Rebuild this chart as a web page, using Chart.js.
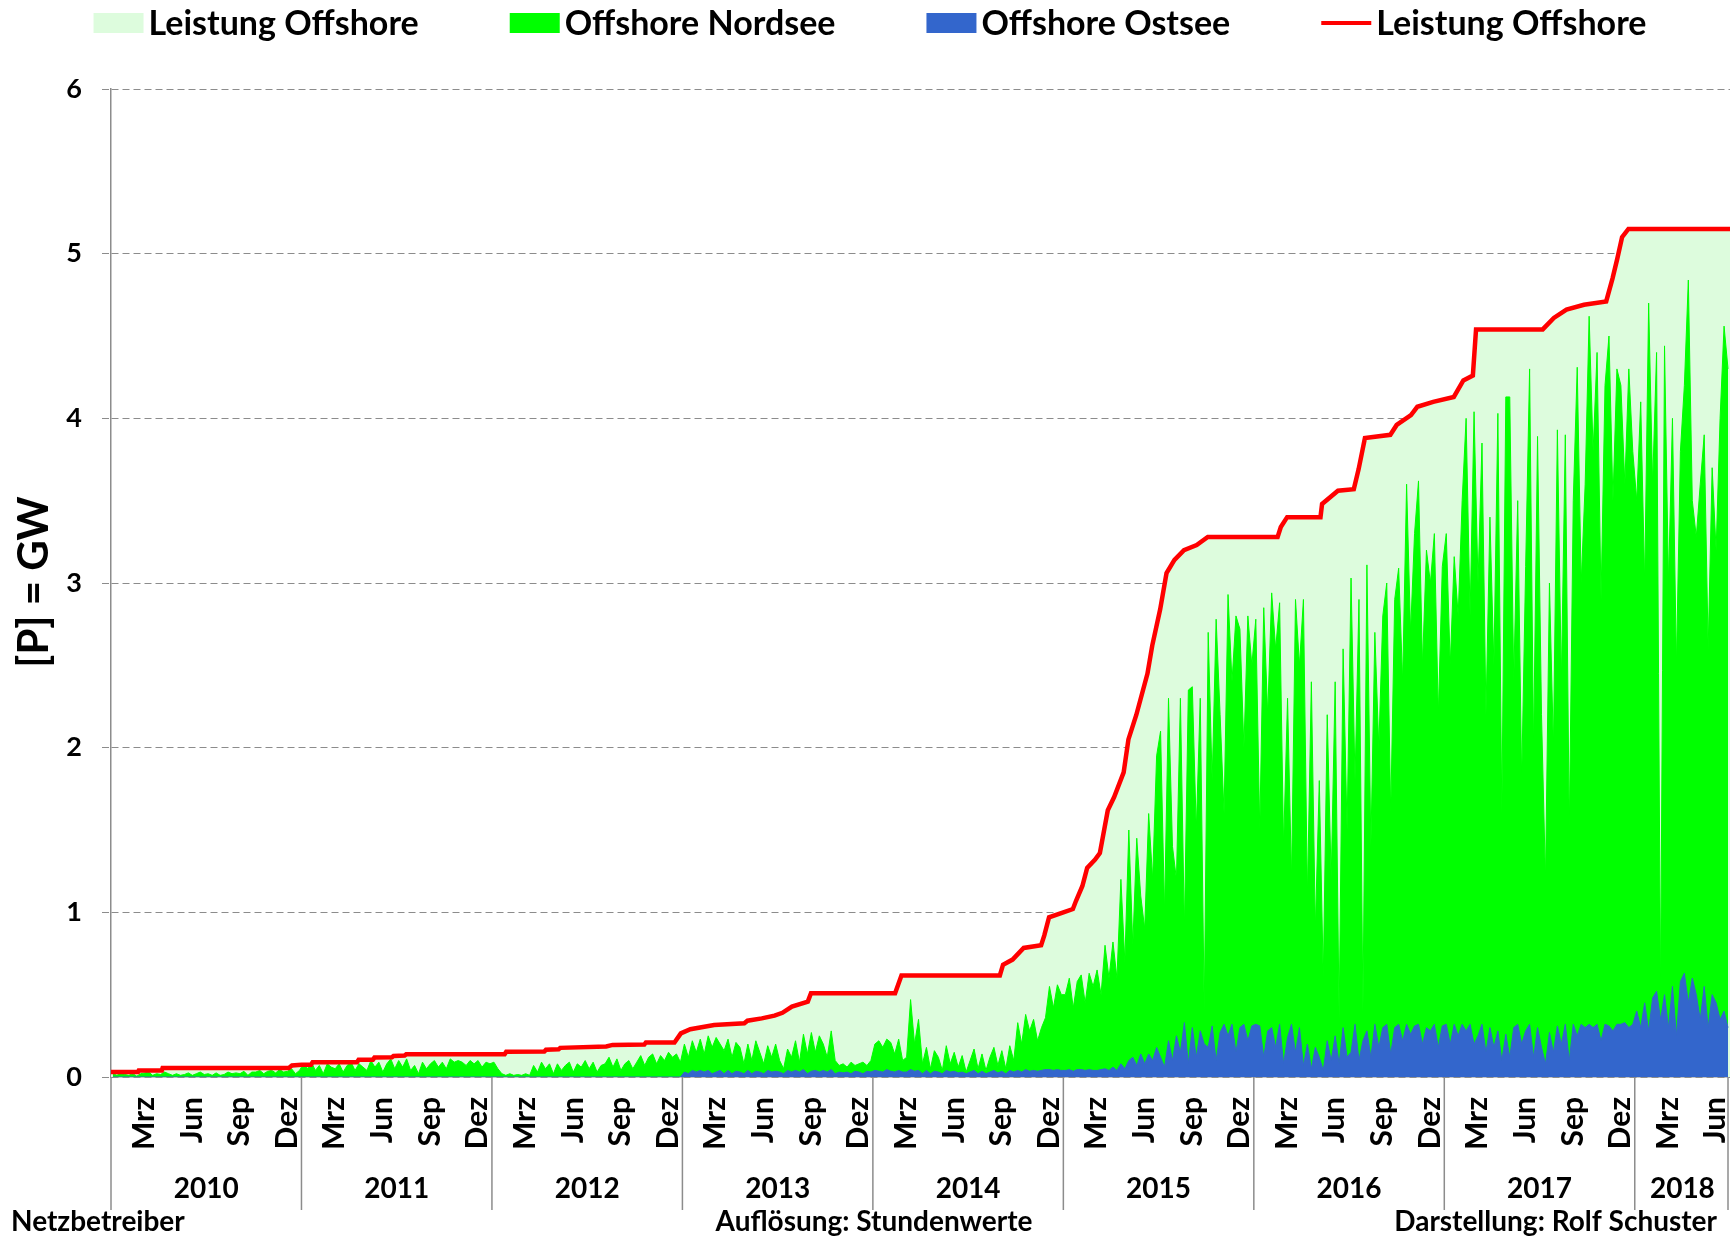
<!DOCTYPE html>
<html>
<head>
<meta charset="utf-8">
<script src="https://cdn.jsdelivr.net/npm/chart.js@4.4.1/dist/chart.umd.min.js"></script>
<style>
html, body { margin: 0; padding: 0; background: #fff; }
canvas { display: block; }
</style>
</head>
<body>
<canvas id="offshore" width="1730" height="1240"></canvas>
<script>
// x = Monate seit Jan 2010
const years = ['2010', '2011', '2012', '2013', '2014', '2015', '2016', '2017', '2018'];
const monthNames = ['Mrz', 'Jun', 'Sep', 'Dez'];
const monthOffsets = [2.1, 5.1, 8.1, 11.1];
const xMax = 102;
const legendLabels = ['Leistung Offshore', 'Offshore Nordsee', 'Offshore Ostsee', 'Leistung Offshore'];
const footerLeft = 'Netzbetreiber';
const footerCenter = 'Auflösung: Stundenwerte';
const footerRight = 'Darstellung: Rolf Schuster';
const yTitle = '[P] = GW';

// installierte Leistung (GW)
const capMonths = [0, 1.7, 1.75, 3.2, 3.25, 11.2, 11.4, 12.0, 12.6, 12.7, 15.5, 15.6, 16.5, 16.6, 17.7, 17.8, 18.5, 18.6,
  24.8, 24.9, 27.3, 27.4, 28.2, 28.3, 31.2, 31.6, 33.6, 33.7, 35.5, 35.9, 36.5, 38.0, 39.9, 40.1, 41.0, 41.8, 42.3, 42.9,
  43.9, 44.1, 49.4, 49.8, 56.0, 56.2, 56.8, 57.5, 58.6, 58.8, 59.1, 60.0, 60.6, 60.8, 61.2, 61.5, 62.0, 62.3, 62.8, 63.2,
  63.8, 64.1, 64.6, 65.3, 65.6, 66.1, 66.5, 67.0, 67.6, 68.4, 69.1, 73.5, 73.7, 74.1, 76.2, 76.3, 77.3, 78.3, 78.6, 79.0,
  80.6, 81.0, 81.9, 82.3, 83.3, 84.6, 85.2, 85.8, 86.0, 90.2, 90.9, 91.7, 92.8, 94.2, 94.6, 94.9, 95.2, 95.6, 102];
const capValues = [0.03, 0.03, 0.04, 0.04, 0.055, 0.055, 0.07, 0.075, 0.075, 0.09, 0.09, 0.105, 0.105, 0.118, 0.12, 0.128, 0.13, 0.138,
  0.138, 0.153, 0.155, 0.165, 0.168, 0.177, 0.185, 0.195, 0.197, 0.21, 0.21, 0.265, 0.29, 0.316, 0.326, 0.342, 0.356, 0.373, 0.39, 0.428,
  0.458, 0.509, 0.509, 0.617, 0.617, 0.682, 0.713, 0.784, 0.80, 0.86, 0.97, 1.0, 1.02, 1.07, 1.16, 1.27, 1.32, 1.36, 1.62, 1.70,
  1.85, 2.05, 2.2, 2.45, 2.62, 2.84, 3.06, 3.14, 3.20, 3.23, 3.28, 3.28, 3.34, 3.40, 3.40, 3.48, 3.56, 3.57, 3.69, 3.88,
  3.90, 3.96, 4.02, 4.07, 4.10, 4.13, 4.23, 4.26, 4.54, 4.54, 4.61, 4.66, 4.69, 4.71, 4.85, 4.97, 5.10, 5.15, 5.15];

// Einspeisung, 4 Werte pro Monat (GW); gruene Oberkante enthaelt den Ostsee-Anteil
const nordsee = [
  0.02,0.01,0.025,0.015, 0.01,0.02,0.005,0.02, 0.025,0.03,0.01,0.02, 0.015,0.03,0.02,0.01, 0.02,0.01,0.015,0.025, 0.01,0.02,0.03,0.015,
  0.02,0.01,0.025,0.01, 0.015,0.03,0.02,0.025, 0.02,0.035,0.01,0.03, 0.03,0.04,0.02,0.035, 0.04,0.025,0.045,0.03, 0.035,0.05,0.02,0.04,
  0.08,0.05,0.09,0.04, 0.07,0.02,0.08,0.06, 0.05,0.08,0.03,0.07, 0.09,0.04,0.08,0.06, 0.04,0.1,0.06,0.09, 0.03,0.08,0.11,0.05,
  0.1,0.06,0.11,0.04, 0.07,0.02,0.09,0.05, 0.08,0.1,0.06,0.09, 0.05,0.11,0.09,0.1, 0.09,0.07,0.1,0.08, 0.1,0.06,0.09,0.08,
  0.09,0.05,0.02,0.01, 0.02,0.01,0.015,0.01, 0.02,0.01,0.07,0.03, 0.09,0.05,0.08,0.02, 0.08,0.04,0.07,0.09, 0.03,0.08,0.06,0.1,
  0.05,0.09,0.03,0.07, 0.08,0.12,0.06,0.11, 0.04,0.08,0.1,0.05, 0.09,0.13,0.07,0.12, 0.14,0.08,0.13,0.1, 0.15,0.12,0.14,0.09,
  0.2,0.12,0.22,0.15, 0.23,0.14,0.25,0.18, 0.24,0.2,0.16,0.23, 0.12,0.21,0.18,0.08, 0.2,0.1,0.22,0.15, 0.08,0.19,0.12,0.2,
  0.1,0.05,0.17,0.12, 0.22,0.09,0.26,0.14, 0.27,0.15,0.25,0.2, 0.12,0.28,0.1,0.07, 0.08,0.06,0.09,0.07, 0.08,0.09,0.07,0.1,
  0.2,0.22,0.18,0.23, 0.21,0.14,0.23,0.1, 0.12,0.47,0.2,0.35, 0.08,0.18,0.05,0.16, 0.12,0.04,0.19,0.08, 0.15,0.06,0.13,0.03,
  0.1,0.17,0.05,0.14, 0.04,0.12,0.18,0.07, 0.16,0.05,0.19,0.1, 0.33,0.2,0.38,0.28, 0.35,0.22,0.3,0.36, 0.55,0.42,0.56,0.5,
  0.5,0.6,0.42,0.58, 0.62,0.45,0.63,0.55, 0.65,0.5,0.8,0.6, 0.82,0.6,1.2,0.7, 1.5,0.8,1.45,1.1, 0.9,1.6,1.2,1.95,
  2.1,1.0,2.3,1.4, 1.2,2.3,0.9,2.35, 2.37,1.5,2.3,0.4, 2.7,1.8,2.78,2.2, 1.6,2.93,2.4,2.8, 2.72,2.0,2.8,2.5,
  2.78,1.5,2.85,2.2, 2.94,2.6,2.88,1.4, 2.3,1.2,2.9,2.5, 2.9,1.1,2.4,0.9, 1.8,0.6,2.2,1.2, 2.4,0.35,2.6,1.5,
  3.03,1.8,2.9,0.4, 3.11,1.4,2.7,2.0, 2.8,3.0,1.6,2.9, 3.09,2.4,3.6,2.7, 3.3,3.62,2.5,3.2, 3.0,3.3,2.2,3.1,
  3.3,2.5,3.16,2.8, 3.5,4.0,2.8,4.04, 3.0,3.85,2.2,3.4, 2.5,4.03,1.6,4.13, 4.13,2.4,3.5,1.8, 3.1,4.3,2.0,3.89,
  2.2,1.2,3.0,2.0, 3.93,2.4,3.9,1.5, 3.5,4.31,3.0,3.6, 4.62,3.8,4.4,2.9, 4.2,4.5,3.5,4.3, 4.2,3.6,4.3,3.8,
  3.5,4.1,3.0,4.7, 3.6,4.4,0.5,4.44, 3.0,4.0,2.5,3.8, 4.2,4.84,3.5,3.28, 3.6,3.9,2.6,3.7, 3.2,4.0,4.56,4.3
];

const ostsee = [
  0,0,0,0, 0,0,0,0, 0,0,0,0, 0,0,0,0, 0,0,0,0, 0,0,0,0, 0,0,0,0, 0,0,0,0, 0,0,0,0, 0,0,0,0, 0,0,0,0, 0,0,0,0,
  0,0,0,0, 0,0,0,0, 0,0,0,0, 0,0,0,0, 0,0,0,0, 0,0,0,0, 0,0,0,0, 0,0,0,0, 0,0,0,0, 0,0,0,0, 0,0,0,0, 0,0,0,0,
  0,0,0,0, 0,0,0,0, 0,0,0,0, 0,0,0,0, 0,0,0,0, 0,0,0,0, 0,0,0,0, 0,0,0,0, 0,0,0,0, 0,0,0,0, 0,0,0,0, 0,0,0,0,
  0.03,0.02,0.04,0.03, 0.04,0.03,0.04,0.02, 0.03,0.04,0.02,0.04, 0.02,0.035,0.03,0.02, 0.04,0.02,0.035,0.03, 0.02,0.04,0.03,0.035,
  0.03,0.02,0.04,0.03, 0.04,0.03,0.045,0.02, 0.035,0.04,0.03,0.04, 0.03,0.045,0.02,0.03, 0.025,0.03,0.02,0.035, 0.03,0.02,0.035,0.03,
  0.04,0.035,0.03,0.045, 0.035,0.03,0.04,0.03, 0.03,0.045,0.035,0.04, 0.02,0.04,0.02,0.035, 0.03,0.02,0.04,0.03, 0.035,0.025,0.03,0.02,
  0.03,0.04,0.02,0.035, 0.02,0.03,0.04,0.025, 0.035,0.02,0.04,0.03, 0.04,0.03,0.045,0.035, 0.04,0.035,0.04,0.045, 0.045,0.04,0.045,0.04,
  0.04,0.045,0.035,0.045, 0.045,0.04,0.045,0.04, 0.04,0.045,0.05,0.04, 0.06,0.04,0.08,0.05, 0.1,0.12,0.07,0.14, 0.08,0.14,0.1,0.18,
  0.12,0.06,0.22,0.1, 0.25,0.15,0.33,0.08, 0.3,0.12,0.28,0.2, 0.18,0.31,0.1,0.27, 0.32,0.25,0.32,0.15, 0.3,0.32,0.22,0.31,
  0.32,0.31,0.12,0.28, 0.3,0.18,0.32,0.08, 0.24,0.32,0.15,0.3, 0.07,0.2,0.05,0.18, 0.12,0.04,0.22,0.1, 0.25,0.08,0.3,0.12,
  0.15,0.32,0.1,0.22, 0.28,0.12,0.32,0.18, 0.3,0.32,0.14,0.3, 0.32,0.22,0.32,0.26, 0.31,0.32,0.2,0.3, 0.28,0.32,0.18,0.31,
  0.32,0.2,0.32,0.25, 0.32,0.28,0.32,0.2, 0.25,0.32,0.15,0.3, 0.18,0.28,0.1,0.26, 0.12,0.3,0.32,0.2, 0.28,0.32,0.12,0.3,
  0.18,0.08,0.27,0.15, 0.31,0.2,0.32,0.1, 0.32,0.25,0.32,0.3, 0.32,0.3,0.32,0.22, 0.32,0.31,0.28,0.32, 0.32,0.33,0.3,0.32,
  0.4,0.3,0.45,0.28, 0.48,0.52,0.35,0.5, 0.3,0.55,0.25,0.58, 0.63,0.45,0.6,0.5, 0.35,0.55,0.3,0.5, 0.45,0.35,0.4,0.3
];

const FONT = 'Lato, "DejaVu Sans", sans-serif';
const GREY = '#8c8c8c';
const colors = { area: '#ddfcdd', nord: '#00ff00', ost: '#3366cc', line: '#ff0000' };

const weekly = arr => arr.map((v, i) => ({ x: (i + 0.5) / 4, y: v }));
const capPoints = capMonths.map((m, i) => ({ x: m, y: capValues[i] }));

const monthTicks = [];
const monthTickLabels = [];
years.forEach((y, yi) => {
  monthOffsets.forEach((off, mi) => {
    const v = yi * 12 + off;
    if (v < xMax) { monthTicks.push(v); monthTickLabels.push(monthNames[mi]); }
  });
});

const decorations = {
  id: 'decorations',
  afterDraw(chart) {
    const { ctx, chartArea, scales: { x } } = chart;
    ctx.save();

    // Jahrestrenner unter der Achse
    ctx.strokeStyle = GREY;
    ctx.lineWidth = 1.5;
    const bounds = years.map((_, i) => i * 12).concat([xMax]);
    bounds.forEach(m => {
      const px = Math.min(x.getPixelForValue(m), chart.width - 2);
      ctx.beginPath();
      ctx.moveTo(px, chartArea.bottom);
      ctx.lineTo(px, 1210);
      ctx.stroke();
    });

    ctx.fillStyle = '#000';
    ctx.textBaseline = 'middle';
    ctx.textAlign = 'center';
    ctx.font = `bold 28px ${FONT}`;
    years.forEach((y, i) => {
      const a = x.getPixelForValue(i * 12);
      const b = x.getPixelForValue(Math.min((i + 1) * 12, xMax));
      ctx.fillText(y, (a + b) / 2, 1189);
    });

    // Achsentitel
    ctx.save();
    ctx.translate(34, 582);
    ctx.rotate(-Math.PI / 2);
    ctx.font = `bold 42px ${FONT}`;
    ctx.fillText(yTitle, 0, 0);
    ctx.restore();

    // Legende
    ctx.font = `bold 34px ${FONT}`;
    const kinds = ['area', 'nord', 'ost', 'line'];
    const widths = legendLabels.map(l => ctx.measureText(l).width);
    const total = widths.reduce((s, w) => s + w + 55, 0) + 3 * 91;
    let lx = 870 - total / 2;
    ctx.textAlign = 'left';
    legendLabels.forEach((l, i) => {
      const k = kinds[i];
      ctx.fillStyle = colors[k];
      if (k === 'line') ctx.fillRect(lx, 21, 50, 4);
      else ctx.fillRect(lx, 13, 50, 20);
      ctx.fillStyle = '#000';
      ctx.fillText(l, lx + 55, 24);
      lx += 55 + widths[i] + 91;
    });

    // Fusszeile
    ctx.font = `bold 28px ${FONT}`;
    ctx.textAlign = 'left';
    ctx.fillText(footerLeft, 11, 1222);
    ctx.textAlign = 'center';
    ctx.fillText(footerCenter, 874, 1222);
    ctx.textAlign = 'right';
    ctx.fillText(footerRight, 1717, 1222);

    ctx.restore();
  }
};

new Chart(document.getElementById('offshore'), {
  type: 'line',
  data: {
    datasets: [
      { label: legendLabels[3], data: capPoints, borderColor: colors.line, borderWidth: 4.5, fill: false, pointRadius: 0, order: 0 },
      { label: legendLabels[2], data: weekly(ostsee), borderColor: colors.ost, backgroundColor: colors.ost, borderWidth: 1, fill: 'origin', pointRadius: 0, order: 1 },
      { label: legendLabels[1], data: weekly(nordsee), borderColor: colors.nord, backgroundColor: colors.nord, borderWidth: 1, fill: 'origin', pointRadius: 0, order: 2 },
      { label: legendLabels[0], data: capPoints, borderWidth: 0, backgroundColor: colors.area, fill: 'origin', pointRadius: 0, order: 3 },
    ],
  },
  options: {
    responsive: false,
    animation: false,
    devicePixelRatio: 1,
    layout: { padding: { top: 89, left: 0, right: 0, bottom: 0 } },
    plugins: { legend: { display: false }, tooltip: { enabled: false } },
    elements: { line: { tension: 0 } },
    scales: {
      x: {
        type: 'linear',
        min: 0,
        max: xMax,
        afterBuildTicks: s => { s.ticks = monthTicks.map(v => ({ value: v })); },
        afterFit: s => { s.height = 163; s.paddingLeft = 0; s.paddingRight = 0; },
        grid: { display: false, drawTicks: false },
        border: { display: true, color: GREY, width: 1.5 },
        ticks: {
          autoSkip: false,
          minRotation: 90,
          maxRotation: 90,
          padding: 20,
          color: '#000',
          font: { family: FONT, weight: 'bold', size: 30 },
          callback: (v, i) => monthTickLabels[i],
        },
      },
      y: {
        min: 0,
        max: 6,
        afterFit: s => { s.width = 111; },
        grid: { color: GREY, lineWidth: 1, tickLength: 9, tickColor: GREY, tickBorderDash: [7, 4] },
        border: { display: true, color: GREY, width: 1.5, dash: [7, 4] },
        ticks: {
          stepSize: 1,
          padding: 20,
          color: '#000',
          font: { family: FONT, weight: 'bold', size: 27 },
        },
      },
    },
  },
  plugins: [decorations],
});
</script>
</body>
</html>
